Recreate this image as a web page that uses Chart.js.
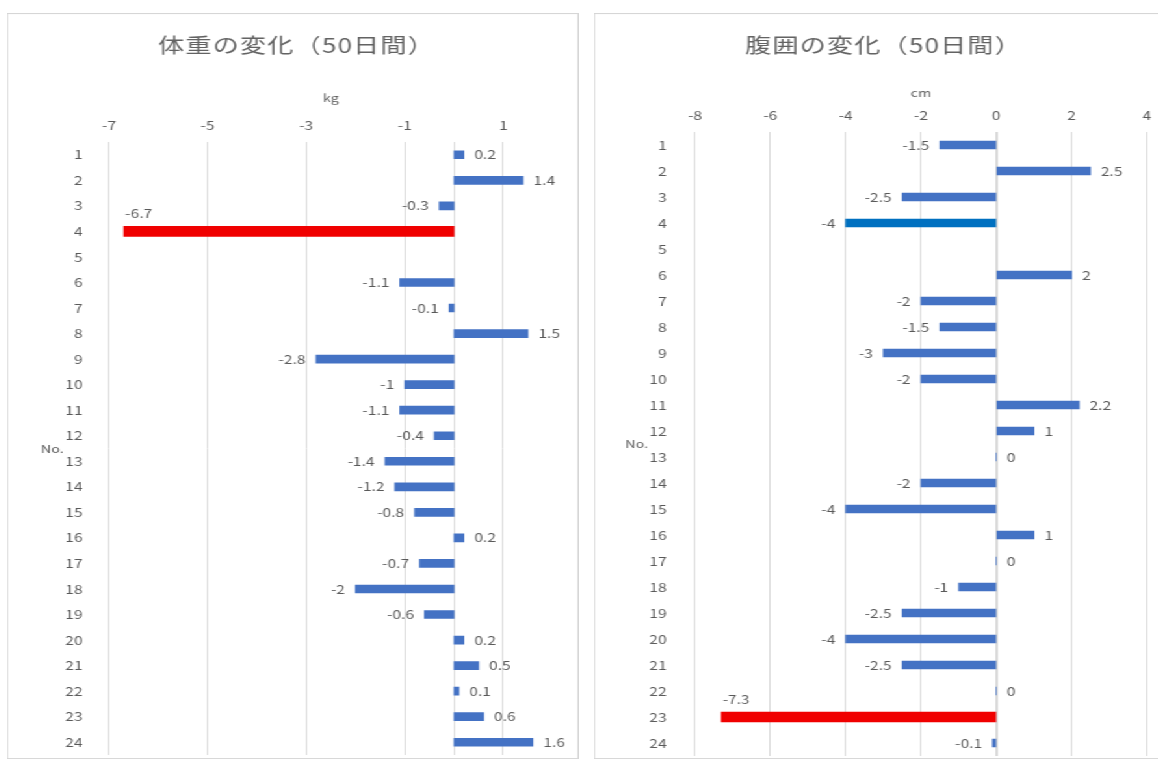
<!DOCTYPE html>
<html lang="ja">
<head>
<meta charset="utf-8">
<title>体重・腹囲の変化（50日間）</title>
<script src="https://cdn.jsdelivr.net/npm/chart.js@4.4.1/dist/chart.umd.min.js"></script>
<style>
  html, body { margin: 0; padding: 0; background: #fff; width: 1158px; height: 762px; overflow: hidden; }
  /* each panel is laid out narrow and widened horizontally */
  .card {
    position: absolute; top: 14px; height: 744px;
    outline: 1px solid #d6d6d6; background: #fff;
    transform-origin: 0 0; transform: scaleX(1.3);
  }
  .card canvas { position: absolute; left: 0; top: 0; display: block; }
  #cardWeight { left: 8px; width: 438px; }
  #cardWaist  { left: 595px; width: 436px; }
</style>
</head>
<body>
<div class="card" id="cardWeight"><canvas id="weightChart" width="438" height="744"></canvas></div>
<div class="card" id="cardWaist"><canvas id="waistChart" width="436" height="744"></canvas></div>

<script>
// participant numbers (category axis)
const memberNo = ['1','2','3','4','5','6','7','8','9','10','11','12',
                  '13','14','15','16','17','18','19','20','21','22','23','24'];

// change in body weight over 50 days (kg); No.5 has no record
const weightChange = [0.2, 1.4, -0.3, -6.7, null, -1.1, -0.1, 1.5, -2.8, -1, -1.1, -0.4,
                      -1.4, -1.2, -0.8, 0.2, -0.7, -2, -0.6, 0.2, 0.5, 0.1, 0.6, 1.6];

// change in waist circumference over 50 days (cm); No.5 has no record
const waistChange = [-1.5, 2.5, -2.5, -4, null, 2, -2, -1.5, -3, -2, 2.2, 1,
                     0, -2, -4, 1, 0, -1, -2.5, -4, -2.5, 0, -7.3, -0.1];

// value-axis tick labels
const weightTicks = [-7, -5, -3, -1, 1];
const waistTicks = [-8, -6, -4, -2, 0, 2, 4];

const FONT = "'Noto Sans CJK JP', 'Noto Sans', sans-serif";
const TEXT = '#595959';
const TITLE = '#636363';
const GRID = '#d9d9d9';
const BLUE = '#4472C4';
const DEEP_BLUE = '#0070C0';
const RED = '#F00000';

// bar value labels: beside the bar end, or above the start for the largest drop
const valueLabels = {
  id: 'valueLabels',
  afterDatasetsDraw(chart) {
    const ctx = chart.ctx;
    ctx.save();
    ctx.font = '12px ' + FONT;
    ctx.fillStyle = TEXT;
    ctx.textBaseline = 'middle';
    chart.data.datasets.forEach((ds, di) => {
      const meta = chart.getDatasetMeta(di);
      meta.data.forEach((bar, i) => {
        const v = ds.data[i];
        if (v === null || v === undefined) return;
        const text = String(v);
        if (ds.peak) {
          ctx.textAlign = 'left';
          ctx.fillText(text, bar.x + 1, bar.y - 18);
        } else if (v < 0) {
          ctx.textAlign = 'right';
          ctx.fillText(text, bar.x - 8, bar.y);
        } else {
          ctx.textAlign = 'left';
          ctx.fillText(text, bar.x + 8, bar.y);
        }
      });
    });
    ctx.restore();
  }
};

// vertical axis line at zero
const zeroLine = {
  id: 'zeroLine',
  beforeDatasetsDraw(chart) {
    const { ctx, chartArea, scales } = chart;
    const x = Math.round(scales.x.getPixelForValue(0)) + 0.5;
    ctx.save();
    ctx.strokeStyle = GRID;
    ctx.lineWidth = 1;
    ctx.beginPath();
    ctx.moveTo(x, chartArea.top);
    ctx.lineTo(x, chartArea.bottom);
    ctx.stroke();
    ctx.restore();
  }
};

// panel heading and the horizontal "No." axis caption
const panelText = {
  id: 'panelText',
  afterDraw(chart, args, opts) {
    const { ctx, chartArea } = chart;
    ctx.save();
    ctx.fillStyle = TITLE;
    ctx.textBaseline = 'middle';
    ctx.textAlign = 'center';
    ctx.font = '20px ' + FONT;
    ctx.letterSpacing = '1px';
    ctx.fillText(opts.title, opts.titleX, opts.titleY);
    ctx.letterSpacing = '0px';
    ctx.fillStyle = TEXT;
    ctx.font = '11px ' + FONT;
    ctx.fillText('No.', opts.noX, (chartArea.top + chartArea.bottom) / 2);
    ctx.restore();
  }
};

// keep the axes from reserving room for overhanging labels
function clearScalePadding(s) {
  s.paddingTop = 0;
  s.paddingBottom = 0;
  s.paddingLeft = 0;
  s.paddingRight = 0;
}

function buildChart(canvasId, c) {
  const mainData = c.values.map((v, i) => (i === c.peakIndex ? null : v));
  const peakData = c.values.map((v, i) => (i === c.peakIndex ? v : null));
  return new Chart(document.getElementById(canvasId), {
    type: 'bar',
    data: {
      labels: memberNo,
      datasets: [
        {
          data: mainData,
          backgroundColor: (ctx) => (ctx.dataIndex === c.accentIndex ? DEEP_BLUE : BLUE),
          barThickness: 8,
          grouped: false
        },
        {
          data: peakData,
          backgroundColor: RED,
          barThickness: 10,
          grouped: false,
          peak: true
        }
      ]
    },
    options: {
      indexAxis: 'y',
      responsive: false,
      animation: false,
      devicePixelRatio: 1,
      layout: { padding: { left: 0, top: 0, right: c.padRight, bottom: c.padBottom } },
      plugins: {
        legend: { display: false },
        tooltip: { enabled: false },
        title: { display: false },
        panelText: { title: c.title, titleX: c.titleX, titleY: 31, noX: c.noX }
      },
      scales: {
        x: {
          position: 'top',
          min: c.min,
          max: c.max,
          afterBuildTicks: (s) => { s.ticks = c.ticks.map((v) => ({ value: v })); },
          afterFit: (s) => { s.height = c.plotTop; clearScalePadding(s); },
          grid: { color: GRID, lineWidth: 1, drawTicks: false },
          border: { display: false },
          ticks: { padding: 9.8, color: TEXT, font: { family: FONT, size: 12 } },
          title: {
            display: true, text: c.unit, color: TEXT,
            font: { family: FONT, size: 11 },
            padding: { top: c.unitTop, bottom: 0 }
          }
        },
        y: {
          afterFit: (s) => { s.width = c.plotLeft; clearScalePadding(s); },
          grid: { display: false },
          border: { display: false },
          ticks: { padding: c.catPad, color: TEXT, autoSkip: false, font: { family: FONT, size: 12 } }
        }
      }
    },
    plugins: [zeroLine, valueLabels, panelText]
  });
}

buildChart('weightChart', {
  title: '体重の変化（50日間）',
  unit: 'kg',
  values: weightChange,
  ticks: weightTicks,
  min: -7, max: 2,
  peakIndex: 3, accentIndex: -1,
  plotLeft: 77.7, plotTop: 128, padRight: 19.1, padBottom: 3,
  unitTop: 77.4, catPad: 12.3,
  titleX: 222, noX: 34
});

buildChart('waistChart', {
  title: '腹囲の変化（50日間）',
  unit: 'cm',
  values: waistChange,
  ticks: waistTicks,
  min: -8, max: 4,
  peakIndex: 22, accentIndex: 3,
  plotLeft: 76.9, plotTop: 118, padRight: 11.4, padBottom: 2,
  unitTop: 72.4, catPad: 13.8,
  titleX: 222, noX: 32
});
</script>
</body>
</html>
